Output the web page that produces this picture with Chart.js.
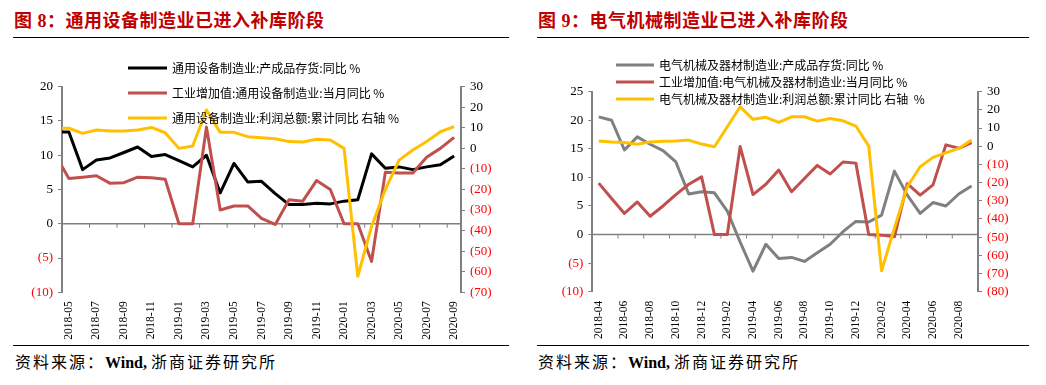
<!DOCTYPE html>
<html lang="zh-CN">
<head>
<meta charset="utf-8">
<title>通用设备 / 电气机械制造业补库</title>
<script src="https://cdn.jsdelivr.net/npm/chart.js@4.4.1/dist/chart.umd.min.js"></script>
<style>
    html, body { margin: 0; padding: 0; background: #fff; }
    body { position: relative; width: 1046px; height: 385px; overflow: hidden; font-family: "Noto Sans CJK SC", sans-serif; }
    .title { position: absolute; top: 7px; font-size: 18px; line-height: 24px; font-weight: bold; color: #C00000; white-space: nowrap; letter-spacing: 0.5px; }
    .title .num { font-family: "Liberation Serif", serif; margin-left: 5px; }
    .rule { position: absolute; height: 1px; background: #000; }
    .source { position: absolute; top: 349px; font-size: 16px; line-height: 24px; letter-spacing: 2px; color: #000; white-space: nowrap; }
    .source .en { font-family: "Liberation Serif", serif; font-weight: bold; letter-spacing: 0; margin-right: 4px; }
    .box { position: absolute; top: 40px; height: 305px; }
</style>
</head>
<body>

<div class="title" style="left:14px">图<span class="num">8</span>：通用设备制造业已进入补库阶段</div>
<div class="rule" style="left:13px; top:37px; width:496px"></div>
<div class="box" style="left:0; width:520px"><canvas id="leftChart"></canvas></div>
<div class="rule" style="left:13px; top:345px; width:496px"></div>
<div class="source" style="left:15px">资料来源：<span class="en">Wind,</span>浙商证券研究所</div>

<div class="title" style="left:538px">图<span class="num">9</span>：电气机械制造业已进入补库阶段</div>
<div class="rule" style="left:537px; top:37px; width:492px"></div>
<div class="box" style="left:520px; width:526px"><canvas id="rightChart"></canvas></div>
<div class="rule" style="left:537px; top:345px; width:492px"></div>
<div class="source" style="left:538px">资料来源：<span class="en">Wind,</span>浙商证券研究所</div>

<script>
// ---- 图8 数据：首个 2018-04 只用于画出左轴处被截断的线段 ----
const leftMonths = [
    '2018-04', '2018-05', '2018-06', '2018-07', '2018-08', '2018-09', '2018-10', '2018-11', '2018-12',
    '2019-01', '2019-02', '2019-03', '2019-04', '2019-05', '2019-06', '2019-07', '2019-08', '2019-09',
    '2019-10', '2019-11', '2019-12', '2020-01', '2020-02', '2020-03', '2020-04', '2020-05', '2020-06',
    '2020-07', '2020-08', '2020-09'
];
const leftInventory = [13.4, 13.4, 7.9, 9.3, 9.6, 10.4, 11.2, 9.8, 10.1, 9.2, 8.3, 10.0, 4.5, 8.8, 6.1, 6.2, 4.4, 2.8, 2.8, 3.0, 2.9, 3.3, 3.5, 10.2, 8.1, 8.3, 7.9, 8.3, 8.6, 9.9];
const leftOutput = [10.1, 6.6, 6.8, 7.0, 5.9, 6.0, 6.8, 6.7, 6.5, 0, 0, 14.1, 2.0, 2.6, 2.6, 0.8, -0.1, 3.5, 3.3, 6.3, 5.0, 0, 0, -5.5, 7.5, 7.4, 7.4, 9.7, 11.0, 12.6];
const leftProfit = [9.8, 9.8, 7.3, 8.9, 8.5, 8.5, 8.9, 10.2, 7.6, 0, 1.2, 18.7, 7.8, 7.8, 5.7, 5.2, 4.7, 3.3, 3.1, 4.4, 4.1, 0, -62.2, -38, -20, -5.7, -0.8, 3.3, 8.1, 10.6];

// ---- 图9 数据 ----
const rightMonths = [
    '2018-04', '2018-05', '2018-06', '2018-07', '2018-08', '2018-09', '2018-10', '2018-11', '2018-12',
    '2019-01', '2019-02', '2019-03', '2019-04', '2019-05', '2019-06', '2019-07', '2019-08', '2019-09',
    '2019-10', '2019-11', '2019-12', '2020-01', '2020-02', '2020-03', '2020-04', '2020-05', '2020-06',
    '2020-07', '2020-08', '2020-09'
];
const rightInventory = [20.6, 20.0, 14.8, 17.1, 15.8, 14.7, 12.7, 7.1, 7.5, 7.3, 4.1, -1.3, -6.4, -1.7, -4.2, -4.0, -4.7, -3.2, -1.7, 0.5, 2.3, 2.2, 3.4, 11.1, 6.9, 3.7, 5.6, 5.0, 7.1, 8.5];
const rightOutput = [9.0, 6.3, 3.7, 5.7, 3.2, 5.0, 7.0, 8.8, 10.1, 0, 0, 15.4, 7.0, 8.8, 11.3, 7.5, 9.8, 12.1, 10.6, 12.7, 12.5, 0, -0.1, -0.4, 8.9, 6.9, 8.7, 15.7, 15.1, 16.1];
const rightProfit = [2.9, 2.3, 2.0, 1.1, 2.4, 2.8, 2.9, 3.4, 1.2, -0.3, 10.7, 21.7, 14.8, 15.9, 13.1, 16.2, 16.2, 13.8, 15.3, 14.0, 11.1, 0.1, -68.5, -45, -22.3, -11.3, -6.1, -3.6, -1.2, 3.4];

const COLORS = {
    black: '#000000',
    red: '#C0504D',
    yellow: '#FFC000',
    gray: '#808080',
    axis: '#808080',
    negative: '#FF0000'
};

Chart.defaults.font.family = '"Liberation Serif", serif';
Chart.defaults.color = '#000';

/**
 * 零轴 + 每两个月一个刻度（画在类目分界处）
 */
const zeroAxisPlugin = {
    id: 'zeroAxis',
    beforeDatasetsDraw(chart) {
        const { ctx, chartArea, scales } = chart;
        const x = scales.x;
        const y0 = scales.y.getPixelForValue(0);
        ctx.save();
        ctx.strokeStyle = COLORS.axis;
        ctx.lineWidth = 1.5;
        ctx.beginPath();
        ctx.moveTo(chartArea.left, y0);
        ctx.lineTo(chartArea.right, y0);
        ctx.stroke();

        ctx.lineWidth = 1;
        const half = (x.getPixelForValue(x.min + 1) - x.getPixelForValue(x.min)) / 2;
        for (let i = x.min + 2; i <= x.max; i += 2) {
            const px = x.getPixelForValue(i) - half;
            ctx.beginPath();
            ctx.moveTo(px, y0);
            ctx.lineTo(px, y0 + 4);
            ctx.stroke();
        }
        ctx.restore();
    }
};

/**
 * 图例画在绘图区内，纵向排列
 */
const insideLegendPlugin = {
    id: 'insideLegend',
    afterDatasetsDraw(chart, args, opts) {
        const { ctx } = chart;
        ctx.save();
        ctx.font = '12px "Noto Sans CJK SC"';
        ctx.textBaseline = 'middle';
        chart.data.datasets.forEach((ds, i) => {
            const y = opts.top + i * opts.gap;
            ctx.strokeStyle = ds.borderColor;
            ctx.lineWidth = 3;
            ctx.beginPath();
            ctx.moveTo(opts.left, y);
            ctx.lineTo(opts.left + opts.sample, y);
            ctx.stroke();
            ctx.fillStyle = '#000';
            ctx.fillText(ds.label, opts.left + opts.sample + 5, y);
        });
        ctx.restore();
    }
};

const RepChart = {
    /**
     * 负数写成 (x)，并标红
     */
    valueAxis(position, min, max, step, width) {
        return {
            position: position,
            min: min,
            max: max,
            afterFit: scale => { scale.width = width; },
            grid: { display: true, drawOnChartArea: false, drawTicks: true, tickLength: 4, color: COLORS.axis, lineWidth: 1 },
            border: { display: true, color: COLORS.axis, width: 2 },
            ticks: {
                stepSize: step,
                autoSkip: false,
                padding: 5,
                font: { size: 13 },
                color: ctx => (ctx.tick && ctx.tick.value < 0 ? COLORS.negative : '#000'),
                callback: v => (v < 0 ? '(' + Math.abs(v) + ')' : String(v))
            }
        };
    },

    line(label, data, color, axis, order) {
        return {
            label: label,
            data: data,
            yAxisID: axis,
            borderColor: color,
            backgroundColor: color,
            borderWidth: 3,
            borderJoinStyle: 'round',
            pointRadius: 0,
            tension: 0,
            order: order
        };
    },

    /**
     * @param {string} canvasId - Canvas元素ID
     * @param {object} cfg - 数据、轴范围与布局
     */
    render(canvasId, cfg) {
        const ctx = document.getElementById(canvasId).getContext('2d');
        const first = cfg.firstIndex;
        return new Chart(ctx, {
            type: 'line',
            data: {
                labels: cfg.labels,
                datasets: cfg.datasets
            },
            plugins: [zeroAxisPlugin, insideLegendPlugin],
            options: {
                responsive: true,
                maintainAspectRatio: false,
                animation: false,
                layout: { padding: { top: cfg.top, left: 0, right: 0, bottom: 0 } },
                plugins: {
                    legend: { display: false },
                    tooltip: { enabled: false },
                    insideLegend: cfg.legend
                },
                scales: {
                    x: {
                        type: 'category',
                        min: first,
                        offset: true,
                        afterFit: scale => { scale.height = cfg.xHeight; },
                        grid: { display: false, drawTicks: false },
                        border: { display: false },
                        ticks: {
                            autoSkip: false,
                            maxRotation: 90,
                            minRotation: 90,
                            padding: 9,
                            font: { size: 11.5 },
                            color: '#000',
                            callback: value => ((value - first) % 2 === 0 ? cfg.labels[value] : '')
                        }
                    },
                    y: this.valueAxis('left', cfg.left[0], cfg.left[1], cfg.left[2], cfg.yWidth),
                    y1: this.valueAxis('right', cfg.right[0], cfg.right[1], cfg.right[2], cfg.y1Width)
                }
            }
        });
    }
};

RepChart.render('leftChart', {
    labels: leftMonths,
    firstIndex: 1,
    top: 46.7,
    xHeight: 52.7,
    yWidth: 62,
    y1Width: 59,
    left: [-10, 20, 5],
    right: [-70, 30, 10],
    legend: { left: 128, sample: 39, top: 28, gap: 25 },
    datasets: [
        RepChart.line('通用设备制造业:产成品存货:同比 %', leftInventory, COLORS.black, 'y', 3),
        RepChart.line('工业增加值:通用设备制造业:当月同比 %', leftOutput, COLORS.red, 'y', 2),
        RepChart.line('通用设备制造业:利润总额:累计同比 右轴 %', leftProfit, COLORS.yellow, 'y1', 1)
    ]
});

RepChart.render('rightChart', {
    labels: rightMonths,
    firstIndex: 0,
    top: 51.7,
    xHeight: 53.3,
    yWidth: 72.3,
    y1Width: 68,
    left: [-10, 25, 5],
    right: [-80, 30, 10],
    legend: { left: 96, sample: 38, top: 25, gap: 17 },
    datasets: [
        RepChart.line('电气机械及器材制造业:产成品存货:同比 %', rightInventory, COLORS.gray, 'y', 3),
        RepChart.line('工业增加值:电气机械及器材制造业:当月同比 %', rightOutput, COLORS.red, 'y', 2),
        RepChart.line('电气机械及器材制造业:利润总额:累计同比 右轴  %', rightProfit, COLORS.yellow, 'y1', 1)
    ]
});
</script>
</body>
</html>
